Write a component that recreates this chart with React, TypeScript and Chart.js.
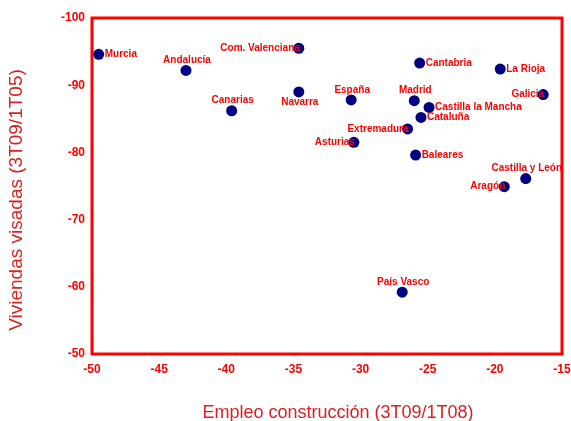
import React, { useEffect, useRef } from 'react';
import { Chart, registerables } from 'chart.js';

Chart.register(...registerables);

// ---- data ----
const regions = [
  'Murcia', 'Andalucía', 'Com. Valenciana', 'Canarias', 'Navarra', 'España',
  'Madrid', 'Cantabria', 'La Rioja', 'Galicia', 'Castilla la Mancha', 'Cataluña',
  'Extremadura', 'Asturias', 'Baleares', 'Castilla y León', 'Aragón', 'País Vasco',
];
const empleoConstruccion = [
  -49.5, -43.0, -34.6, -39.6, -34.6, -30.7,
  -26.0, -25.6, -19.6, -16.4, -24.9, -25.5,
  -26.5, -30.5, -25.9, -17.7, -19.3, -26.9,
];
const viviendasVisadas = [
  -94.6, -92.2, -95.5, -86.2, -89.0, -87.8,
  -87.7, -93.3, -92.4, -88.6, -86.7, -85.2,
  -83.5, -81.5, -79.6, -76.1, -74.9, -59.2,
];
const labelSide = [
  'right', 'above', 'left', 'above', 'below', 'above',
  'above', 'right', 'right', 'left', 'right', 'right',
  'left', 'left', 'right', 'above', 'left', 'above',
];
const xTitle = 'Empleo construcción (3T09/1T08)';
const yTitle = 'Viviendas visadas (3T09/1T05)';
const xMin = -50, xMax = -15, xStep = 5;
const yMin = -100, yMax = -50, yStep = 10;

const FONT = '"Liberation Sans", Arial, Helvetica, sans-serif';
const RED = '#ff0000';
const TITLE_RED = '#dc1f1f';
const NAVY = '#000080';

const framePlugin = {
  id: 'frame',
  beforeDatasetsDraw(chart: any) {
    const { ctx, chartArea: a } = chart;
    ctx.save();
    ctx.strokeStyle = RED;
    ctx.lineWidth = 3;
    ctx.strokeRect(a.left, a.top, a.right - a.left, a.bottom - a.top);
    ctx.restore();
  },
};

const labelsPlugin = {
  id: 'pointLabels',
  afterDatasetsDraw(chart: any) {
    const { ctx } = chart;
    const meta = chart.getDatasetMeta(0);
    ctx.save();
    ctx.font = `bold 10px ${FONT}`;
    ctx.fillStyle = RED;
    meta.data.forEach((el: any, i: number) => {
      const side = labelSide[i];
      const { x, y } = el;
      ctx.textBaseline = 'middle';
      if (side === 'right') {
        ctx.textAlign = 'left';
        ctx.fillText(regions[i], x + 6, y);
      } else if (side === 'left') {
        ctx.textAlign = 'right';
        ctx.fillText(regions[i], x + 1, y);
      } else if (side === 'above') {
        ctx.textAlign = 'center';
        ctx.fillText(regions[i], x + 1, y - 10);
      } else {
        ctx.textAlign = 'center';
        ctx.fillText(regions[i], x + 1, y + 10);
      }
    });
    ctx.restore();
  },
};

const axisTitlesPlugin = {
  id: 'axisTitles',
  afterDraw(chart: any) {
    const { ctx, chartArea: a } = chart;
    ctx.save();
    ctx.fillStyle = TITLE_RED;
    ctx.textAlign = 'center';
    ctx.textBaseline = 'middle';
    ctx.font = `18px ${FONT}`;
    ctx.fillText(xTitle, (a.left + a.right) / 2 + 11, a.bottom + 59);
    ctx.font = `19px ${FONT}`;
    ctx.translate(17, (a.top + a.bottom) / 2 + 14);
    ctx.rotate(-Math.PI / 2);
    ctx.fillText(yTitle, 0, 0);
    ctx.restore();
  },
};

export default function App() {
  const ref = useRef<HTMLCanvasElement>(null);

  useEffect(() => {
    document.body.style.margin = '0';
    const canvas = ref.current!;
    const chart = new Chart(canvas, {
      type: 'scatter',
      data: {
        datasets: [
          {
            label: 'Regiones',
            data: empleoConstruccion.map((x, i) => ({ x, y: viviendasVisadas[i] })),
            backgroundColor: NAVY,
            borderColor: NAVY,
            pointRadius: 5.5,
            pointHoverRadius: 5.5,
            borderWidth: 0,
          },
        ],
      },
      options: {
        responsive: false,
        animation: false,
        layout: { padding: { left: 0, right: 0, top: 18, bottom: 0 } },
        plugins: {
          legend: { display: false },
          tooltip: { enabled: false },
          title: { display: false },
        },
        scales: {
          x: {
            type: 'linear',
            min: xMin,
            max: xMax,
            grid: { display: false, drawTicks: false },
            border: { display: false },
            ticks: {
              stepSize: xStep,
              color: RED,
              font: { family: FONT, size: 12, weight: 'bold' },
              padding: 8,
              maxRotation: 0,
              autoSkip: false,
            },
            afterFit(scale: any) {
              scale.height = 67;
              scale.paddingRight = 9;
              scale.paddingLeft = 0;
            },
          },
          y: {
            type: 'linear',
            reverse: true,
            min: yMin,
            max: yMax,
            grid: { display: false, drawTicks: false },
            border: { display: false },
            ticks: {
              stepSize: yStep,
              color: RED,
              font: { family: FONT, size: 12, weight: 'bold' },
              padding: 7,
              autoSkip: false,
            },
            afterFit(scale: any) {
              scale.width = 92;
              scale.paddingTop = 0;
              scale.paddingBottom = 0;
            },
          },
        },
      },
      plugins: [framePlugin, labelsPlugin, axisTitlesPlugin],
    } as any);
    return () => chart.destroy();
  }, []);

  return (
    <div style={{ width: 571, height: 421, background: '#fff' }}>
      <canvas ref={ref} width={571} height={421} />
    </div>
  );
}
